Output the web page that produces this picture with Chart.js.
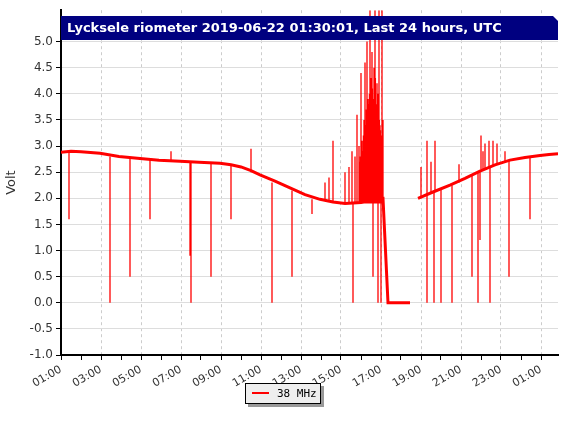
<!DOCTYPE html>
<html>
<head>
<meta charset="utf-8">
<script src="https://cdn.jsdelivr.net/npm/chart.js@4"></script>
<style>
  body { margin: 0; background: #fff; }
  #wrap { position: relative; width: 567px; height: 426px; }
  #legend {
    position: absolute; left: 245px; top: 383px; width: 74px; height: 19px;
    background: #eee; border: 1px solid #000; box-shadow: 3px 3px 0 #999;
    font: 11px "DejaVu Sans Mono", monospace; line-height: 19px;
  }
  #legend span { display: inline-block; width: 17px; height: 2px; background: #f00; margin: 0 8px 3px 6px; vertical-align: middle; }
</style>
</head>
<body>
<div id="wrap">
  <canvas id="chart" width="567" height="426"></canvas>
  <div id="legend"><span></span>38 MHz</div>
</div>
<script>
const titleText = "Lycksele riometer 2019-06-22 01:30:01, Last 24 hours, UTC";
const seriesLabel = "38 MHz";
// hours since 01:00 UTC, volts
const baseHours = [0, 0.5, 1.0, 1.95, 2.9, 3.95, 4.9, 5.95, 6.9, 7.95, 8.5, 9.0, 9.5, 9.95, 10.7, 11.45, 12.2, 12.95, 13.6, 14.2, 15.0, 15.45, 16.1, 16.35, 17.45, 17.6, 17.85, 18.6, 19.45, 20.2, 20.95, 21.7, 22.45, 23.2, 23.95, 24.4, 24.85];
const baseVolts = [2.88, 2.9, 2.89, 2.86, 2.8, 2.76, 2.73, 2.71, 2.69, 2.67, 2.64, 2.6, 2.53, 2.45, 2.33, 2.2, 2.07, 1.98, 1.93, 1.9, 1.92, 1.98, 2.0, 0.0, 0.0, null, 2.0, 2.12, 2.25, 2.38, 2.52, 2.64, 2.73, 2.78, 2.82, 2.84, 2.85];
// spikes: [hour, from, to]
const spikes = [
  [0.4, 2.88, 1.6], [2.45, 2.8, 0], [3.45, 2.78, 0.5], [4.45, 2.75, 1.6], [6.45, 2.7, 0.9], [6.5, 2.7, 0],
  [7.5, 2.68, 0.5], [8.5, 2.63, 1.6], [10.55, 2.3, 0], [11.55, 2.15, 0.5], [12.55, 1.98, 1.7], [14.6, 1.9, 0],
  [15.6, 2.0, 0.5], [15.85, 2.0, 0], [16.0, 2.0, 0], [18.3, 2.1, 0], [18.65, 2.12, 0], [19.0, 2.17, 0],
  [19.55, 2.25, 0], [20.55, 2.45, 0.5], [20.85, 2.5, 0], [20.95, 2.5, 1.2], [21.45, 2.6, 0], [22.4, 2.72, 0.5], [23.45, 2.8, 1.6],
  [5.5, 2.7, 2.9], [9.5, 2.5, 2.95], [13.6, 1.95, 3.1], [13.2, 1.95, 2.3], [13.4, 1.95, 2.4], [14.2, 1.9, 2.5],
  [14.4, 1.9, 2.6], [14.55, 1.9, 2.9], [14.7, 1.9, 2.8], [14.8, 1.9, 3.6], [14.9, 1.9, 3.0], [14.95, 1.9, 2.7],
  [15.0, 1.9, 4.4], [15.05, 1.9, 3.1], [15.1, 1.9, 2.9], [15.15, 1.9, 3.5], [15.2, 1.9, 4.6], [15.25, 1.9, 3.3],
  [15.3, 1.9, 5.0], [15.35, 1.9, 3.9], [15.4, 1.9, 3.6], [15.45, 1.9, 5.6], [15.5, 1.9, 4.3], [15.55, 1.9, 4.8],
  [15.6, 1.9, 3.7], [15.65, 1.9, 4.5], [15.7, 1.9, 5.6], [15.75, 1.9, 3.8], [15.8, 1.9, 4.2], [15.85, 1.9, 4.0],
  [15.9, 1.9, 5.6], [15.95, 1.9, 3.4], [16.0, 1.9, 3.2], [16.05, 1.9, 5.6], [16.1, 1.9, 3.5],
  [14.97, 1.9, 2.8], [15.02, 1.9, 3.0], [15.12, 1.9, 3.2], [15.17, 1.9, 3.1], [15.22, 1.9, 3.4],
  [15.27, 1.9, 3.7], [15.32, 1.9, 3.5], [15.37, 1.9, 3.8], [15.42, 1.9, 4.0], [15.47, 1.9, 3.6],
  [15.52, 1.9, 3.9], [15.57, 1.9, 4.1], [15.62, 1.9, 3.9], [15.67, 1.9, 4.0], [15.72, 1.9, 4.3],
  [15.77, 1.9, 3.7], [15.82, 1.9, 3.6], [15.87, 1.9, 3.9], [15.92, 1.9, 3.5], [15.97, 1.9, 3.3],
  [18.0, 2.0, 2.6], [18.3, 2.1, 3.1], [18.5, 2.1, 2.7], [18.7, 2.15, 3.1], [19.9, 2.3, 2.65],
  [21.0, 2.55, 3.2], [21.1, 2.55, 2.9], [21.2, 2.58, 3.05], [21.4, 2.6, 3.1], [21.6, 2.62, 3.1], [21.8, 2.65, 3.05], [22.2, 2.7, 2.9]
];

const spikePoints = [];
spikes.forEach(([h, a, b]) => {
  spikePoints.push({ x: h, y: a }, { x: h, y: b }, { x: h, y: null });
});

const titleBar = {
  id: "titleBar",
  afterDraw(chart) {
    const { ctx, chartArea } = chart;
    const x0 = chartArea.left, x1 = chartArea.right, y0 = 16, y1 = 40;
    ctx.save();
    ctx.fillStyle = "#000080";
    ctx.beginPath();
    ctx.moveTo(x0, y0);
    ctx.lineTo(x1 - 5, y0);
    ctx.lineTo(x1, y0 + 5);
    ctx.lineTo(x1, y1);
    ctx.lineTo(x0, y1);
    ctx.closePath();
    ctx.fill();
    ctx.fillStyle = "#fff";
    ctx.font = "bold 13px 'DejaVu Sans'";
    ctx.textBaseline = "middle";
    ctx.fillText(titleText, x0 + 6, 29);
    ctx.restore();
  },
};

new Chart(document.getElementById("chart"), {
  type: "line",
  data: {
    datasets: [
      {
        label: seriesLabel,
        data: baseHours.map((h, i) => ({ x: h, y: baseVolts[i] })),
        borderColor: "#ff0000",
        borderWidth: 3,
        pointRadius: 0,
        spanGaps: false,
      },
      {
        label: "spikes",
        data: spikePoints,
        borderColor: "#ff0000",
        borderWidth: 1.3,
        pointRadius: 0,
        spanGaps: false,
      },
    ],
  },
  options: {
    responsive: false,
    animation: false,
    layout: { padding: { left: 0, right: 9, top: 0, bottom: 0 } },
    plugins: { legend: { display: false }, tooltip: { enabled: false } },
    scales: {
      x: {
        type: "linear",
        min: 0,
        max: 24.85,
        afterFit: (s) => { s.height = 71; },
        afterBuildTicks: (s) => {
          const t = [];
          for (let v = 0; v <= 24; v++) t.push({ value: v });
          s.ticks = t;
        },
        grid: {
          color: (c) => (c.tick && c.tick.value % 2 === 0 ? "#ccc" : "rgba(0,0,0,0)"),
          tickColor: "#000",
          tickLength: 5,
        },
        border: { color: "#000", width: 2, dash: [3, 3] },
        ticks: {
          maxRotation: 30,
          minRotation: 30,
          autoSkip: false,
          color: "#333",
          font: { family: "DejaVu Sans", size: 11 },
          callback: (v) => (v % 2 === 0 ? String((1 + v) % 24).padStart(2, "0") + ":00" : ""),
        },
      },
      y: {
        min: -1,
        max: 5.6,
        afterFit: (s) => { s.width = 61; },
        afterBuildTicks: (s) => {
          const t = [];
          for (let v = -1; v <= 5.001; v += 0.5) t.push({ value: Math.round(v * 10) / 10 });
          s.ticks = t;
        },
        grid: { color: "#ddd", tickColor: "#000", tickLength: 5 },
        border: { color: "#000", width: 2 },
        title: { display: true, text: "Volt", color: "#333", font: { family: "DejaVu Sans", size: 13 } },
        ticks: { color: "#333", font: { family: "DejaVu Sans", size: 12 }, callback: (v) => v.toFixed(1) },
      },
    },
  },
  plugins: [titleBar],
});
</script>
</body>
</html>
